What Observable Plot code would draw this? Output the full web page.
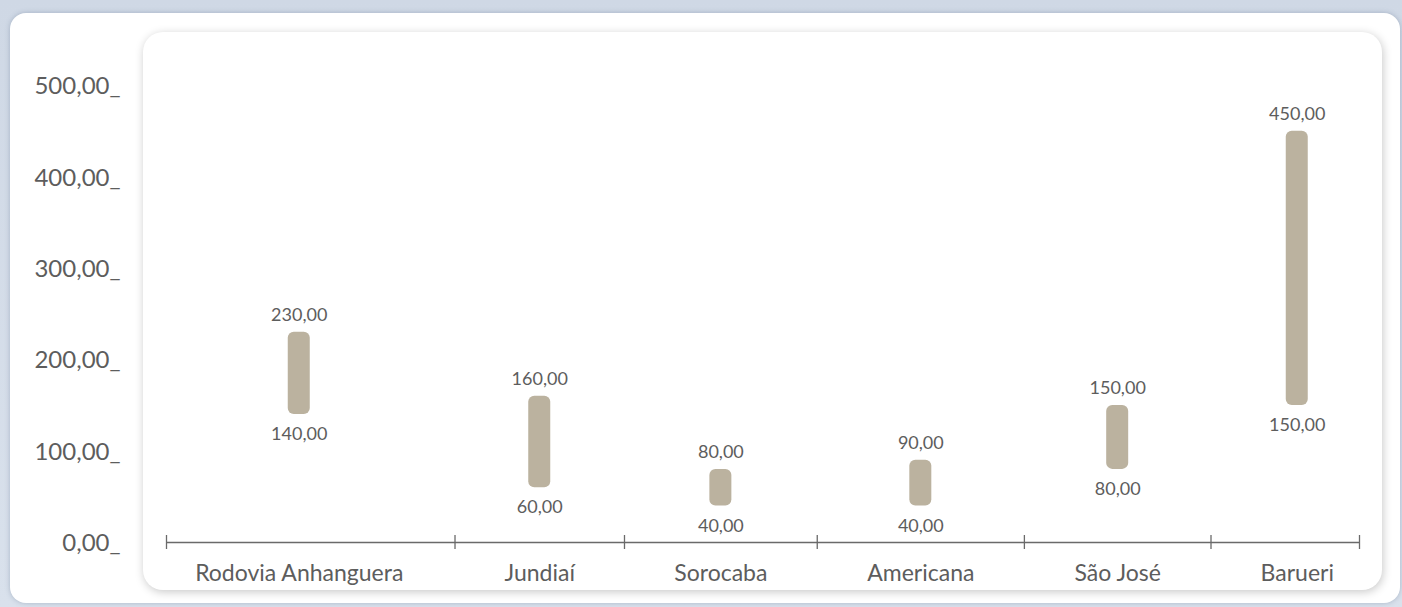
<!DOCTYPE html>
<html><head><meta charset="utf-8">
<script src="https://cdn.jsdelivr.net/npm/d3@7"></script>
<script src="https://cdn.jsdelivr.net/npm/@observablehq/plot@0.6"></script>
<style>
html,body{margin:0;padding:0;}
body{width:1402px;height:607px;overflow:hidden;background:linear-gradient(#cfd8e5,#d9e1ec);position:relative;font-family:Lato,sans-serif;}
#outer{position:absolute;left:10px;top:13px;width:1390px;height:590px;background:#fff;border-radius:16px;box-shadow:0 0 5px rgba(80,100,130,0.35);}
#inner{position:absolute;left:143px;top:32px;width:1239px;height:558px;background:#fff;border-radius:20px;box-shadow:1px 2px 10px rgba(0,0,0,0.22);}
#chart{position:absolute;left:0;top:0;}
</style></head><body>
<div id="outer"></div><div id="inner"></div><div id="chart"></div>
<script>
// ---- data ----
const categories = ["Rodovia Anhanguera", "Jundiaí", "Sorocaba", "Americana", "São José", "Barueri"];
const minValues = [140, 60, 40, 40, 80, 150];
const maxValues = [230, 160, 80, 90, 150, 450];
const yTicks = [0, 100, 200, 300, 400, 500];

// ---- layout: column widths follow the label widths (like a table) ----
const catFontSize = 23;
const ctx = document.createElement("canvas").getContext("2d");
ctx.font = catFontSize + "px Lato";
const colPad = 95;
const widths = categories.map(c => ctx.measureText(c).width + colPad);
const bounds = [0];
widths.forEach(w => bounds.push(bounds[bounds.length - 1] + w));
const total = bounds[bounds.length - 1];

const fmt = v => v.toFixed(2).replace(".", ",");
const rows = categories.map((c, i) => ({
  category: c, min: minValues[i], max: maxValues[i],
  center: (bounds[i] + bounds[i + 1]) / 2
}));

const textColor = "#5d5d5d";
const axisColor = "#6a6a6a";
const chart = Plot.plot({
  width: 1402,
  height: 607,
  marginLeft: 143,
  marginRight: 19,
  marginTop: 85,
  marginBottom: 65,
  style: {background: "transparent", fontFamily: "Lato, sans-serif", color: textColor},
  x: {type: "linear", domain: [0, total], axis: null},
  y: {domain: [0, 500], axis: null},
  marks: [
    Plot.axisY(yTicks, {
      tickSize: 0, tickPadding: 23, tickFormat: d => fmt(d) + "_",
      fontSize: 24, fill: textColor, label: null, dy: 1
    }),
    Plot.ruleY([0], {x1: 0, x2: total, insetLeft: 23, insetRight: 24, stroke: axisColor, strokeWidth: 1.3}),
    Plot.ruleX(bounds.slice(1, -1), {x: d => d, y1: d => 0, y2: d => 0, insetTop: -7, insetBottom: -7, stroke: axisColor, strokeWidth: 1.3}),
    Plot.ruleX([0], {x: d => d, y1: d => 0, y2: d => 0, dx: 23, insetTop: -7, insetBottom: -7, stroke: axisColor, strokeWidth: 1.3}),
    Plot.ruleX([total], {x: d => d, y1: d => 0, y2: d => 0, dx: -24, insetTop: -7, insetBottom: -7, stroke: axisColor, strokeWidth: 1.3}),
    Plot.rect(rows, {x1: "center", x2: "center", y1: "min", y2: "max",
      insetLeft: -11, insetRight: -11, fill: "#bbb29f", rx: 6, ry: 6}),
    Plot.text(rows, {x: "center", y: "max", text: d => fmt(d.max), dy: -17, fontSize: 18, fill: textColor}),
    Plot.text(rows, {x: "center", y: "min", text: d => fmt(d.min), dy: 20, fontSize: 18, fill: textColor}),
    Plot.text(rows, {x: "center", y: d => 0, text: "category", dy: 31, fontSize: catFontSize, fill: textColor})
  ]
});
document.getElementById("chart").appendChild(chart);
</script>
</body></html>
